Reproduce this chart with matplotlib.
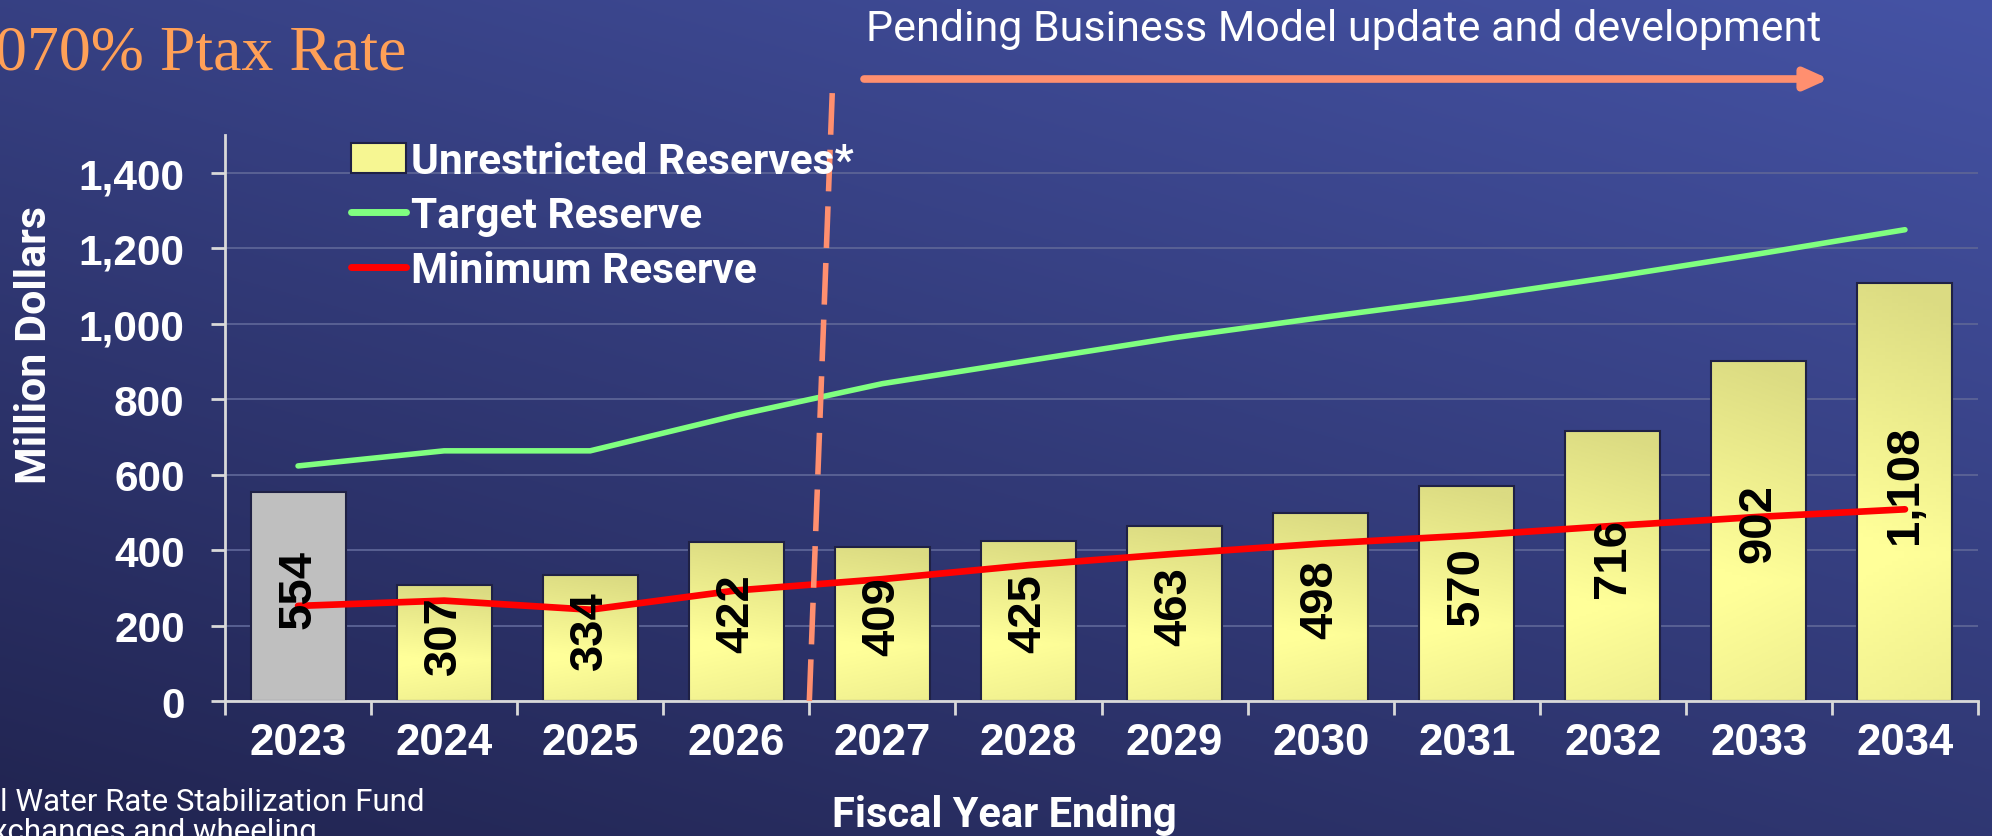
import numpy as np
import matplotlib
matplotlib.use("Agg")
import matplotlib.pyplot as plt
from matplotlib.colors import LinearSegmentedColormap, to_rgb
from matplotlib.lines import Line2D
from matplotlib.patches import Patch
from matplotlib.ticker import FuncFormatter

# data
years = ['2023', '2024', '2025', '2026', '2027', '2028', '2029', '2030', '2031', '2032', '2033', '2034']
unrestricted = [554, 307, 334, 422, 409, 425, 463, 498, 570, 716, 902, 1108]
target_reserve = [623, 663, 663, 757, 841, 902, 963, 1016, 1067, 1124, 1185, 1249]
minimum_reserve = [252, 266, 242, 293, 323, 360, 390, 417, 438, 464, 488, 508]
n_actual = 1          # first bar is actual (grey)
pending_after = 3     # divider after 2026

legend_labels = ['Unrestricted Reserves*', 'Target Reserve', 'Minimum Reserve']

W, H = 1992, 837
fig = plt.figure(figsize=(W / 100, H / 100), dpi=100)

# background gradient
bg = fig.add_axes([0, 0, 1, 1], zorder=-10)
xx, yy = np.meshgrid(np.linspace(0, 1, 300), np.linspace(0, 1, 300))
t = 0.4 * xx + 0.6 * yy
c0 = np.array(to_rgb('#212450'))
c1 = np.array(to_rgb('#4553A5'))
bg.imshow(c0 + (c1 - c0) * t[..., None], origin='lower', extent=[0, 1, 0, 1], aspect='auto')
bg.axis('off')

ax = fig.add_axes([225 / W, 1 - 702 / H, (1978 - 225) / W, (702 - 136) / H])
ax.set_facecolor('none')

x = np.arange(len(years))
edge = '#1F2145'
bars = ax.bar(x, unrestricted, width=0.65, color='none', edgecolor=edge, linewidth=1.5, zorder=2)

# yellow gradient fill inside each bar
bar_cmap = LinearSegmentedColormap.from_list('bar', ['#DBDB82', '#FFFF99'])
gy = np.linspace(0, 1, 120)[:, None]
gx = np.linspace(0, 1, 30)[None, :]
grad = np.interp(gy, [0, 0.35, 1], [0.6, 1.0, 0.0]) - 0.15 * (gx - 0.5)
for i, b in enumerate(bars):
    if i < n_actual:
        b.set_facecolor('#BFBFBF')
        continue
    im = ax.imshow(grad, extent=[b.get_x(), b.get_x() + b.get_width(), 0, b.get_height()],
                   origin='lower', aspect='auto', cmap=bar_cmap, vmin=0, vmax=1, zorder=1.9)
    im.set_clip_path(b)

ax.plot(x, target_reserve, color='#80FF80', lw=4, solid_capstyle='round', zorder=3)
ax.plot(x, minimum_reserve, color='#FF0000', lw=4.8, solid_capstyle='round', zorder=3)

for xi, v in zip(x, unrestricted):
    ax.annotate(f'{v:,}', (xi, v / 2), xytext=(0, 6), textcoords='offset points',
                rotation=90, ha='center', va='center', fontsize=34, fontweight='bold',
                family='Liberation Sans', color='black', zorder=4)

ax.set_xlim(-0.5, len(years) - 0.5)
ax.set_ylim(0, 1500)
ax.set_yticks(range(0, 1401, 200))
ax.yaxis.set_major_formatter(FuncFormatter(lambda v, p: f'{int(v):,}'))
ax.set_xticks(x)
ax.set_xticklabels(years)
ax.set_xticks(np.arange(-0.5, len(years), 1), minor=True)
ax.tick_params(axis='x', which='major', length=0, pad=15)
ax.tick_params(axis='x', which='minor', length=10, width=2, color='#D9D9D9')
ax.tick_params(axis='y', length=10, width=2, color='#D9D9D9', pad=19)
for lab in ax.get_yticklabels():
    lab.set_fontsize(30.5)
for lab in ax.get_xticklabels():
    lab.set_fontsize(31.5)
for lab in ax.get_xticklabels() + ax.get_yticklabels():
    lab.set_family('Liberation Sans')
    lab.set_fontweight('bold')
    lab.set_color('white')

ax.grid(axis='y', color='#5C6496', lw=1.3)
ax.set_axisbelow(True)
for s in ['top', 'right']:
    ax.spines[s].set_visible(False)
for s in ['left', 'bottom']:
    ax.spines[s].set_color('#D9D9D9')
    ax.spines[s].set_linewidth(2)

handles = [Patch(facecolor='#F6F692', edgecolor=edge, linewidth=1.5),
           Line2D([], [], color='#80FF80', lw=5, solid_capstyle='round'),
           Line2D([], [], color='#FF0000', lw=5, solid_capstyle='round')]
ax.legend(handles, legend_labels, loc='upper left', bbox_to_anchor=(0.072, 0.99),
          frameon=False, prop={'family': 'Roboto', 'weight': 'bold', 'size': 30.5},
          labelcolor='white', handlelength=1.3, handletextpad=0.12,
          labelspacing=0.32, borderpad=0, borderaxespad=0)

# dashed divider between actual/budget and pending years
ax.plot([pending_after + 0.5, pending_after + 0.66], [0, 1644], color='#FF8F6F', lw=4,
        dashes=(7.5, 2.7), clip_on=False, zorder=5)

ax.annotate('', xy=(1829 / W, 1 - 80 / H), xytext=(864 / W, 1 - 80 / H),
            xycoords='figure fraction',
            arrowprops=dict(arrowstyle='-|>,head_length=1.0,head_width=0.45', color='#FF8F6F',
                            lw=5.5, mutation_scale=14, shrinkA=0, shrinkB=0))

fig.text(1344 / W, 1 - 29 / H, 'Pending Business Model update and development', ha='center',
         va='center', color='white', fontsize=31, family='Roboto')
fig.text(-5 / W, 1 - 54 / H, '070% Ptax Rate', ha='left', va='center', color='#FFA057',
         fontsize=46, family='Liberation Serif')
fig.text(34 / W, 1 - 345 / H, 'Million Dollars', rotation=90, ha='center', va='center',
         color='white', fontsize=31, fontweight='bold', family='Roboto')
fig.text(1004 / W, 1 - 816 / H, 'Fiscal Year Ending', ha='center', va='center',
         color='white', fontsize=30, fontweight='bold', family='Roboto')
fig.text(0.0, 1 - 803 / H, 'l Water Rate Stabilization Fund', ha='left', va='center',
         color='white', fontsize=22.5, family='Roboto')
fig.text(-0.004, 1 - 833 / H, 'xchanges and wheeling', ha='left', va='center',
         color='white', fontsize=22.5, family='Roboto')

fig.savefig('out.png', dpi=100)
